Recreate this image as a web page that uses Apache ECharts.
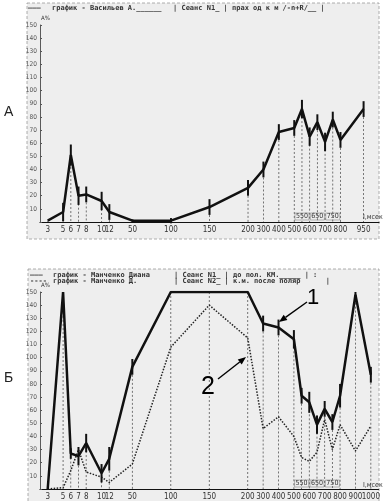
<!DOCTYPE html>
<html><head><meta charset="utf-8">
<script src="https://cdn.jsdelivr.net/npm/echarts@6/dist/echarts.min.js"></script>
<style>html,body{margin:0;padding:0;background:#fff}#c{width:383px;height:501px}</style>
</head><body><div id="c"></div>
<script>
// ---- Data (categories padded with '' spacers to reproduce the uneven time scale) ----
const catsA = ['', '3', '', '5', '6', '7', '8', '', '10', '12',
  '', '', '50', '', '', '', '', '100', '', '', '', '', '150', '', '', '', '', '200',
  '', '300', '', '400', '', '500', '550', '600', '650', '700', '750', '800', '', '', '950', '', ''];
const valsA = [null, 1, null, 7.6, 51, 20, 21, null, 16, 7.6,
  null, null, 1, null, null, null, null, 1, null, null, null, null, 11.4, null, null, null, null, 26,
  null, 40, null, 68.5, null, 71.6, 86, 65, 76, 61, 78, 62.5, null, null, 86, null, null];
const errA = [null, 0, null, 7, 8, 7, 6, null, 7, 6,
  null, null, 1, null, null, null, null, 2, null, null, null, null, 6, null, null, null, null, 6,
  null, 6, null, 6, null, 6, 7, 7, 6, 7, 6, 6, null, null, 6, null, null];

const catsB = ['', '3', '', '5', '6', '7', '8', '', '10', '12',
  '', '', '50', '', '', '', '', '100', '', '', '', '', '150', '', '', '', '', '200',
  '', '300', '', '400', '', '500', '550', '600', '650', '700', '750', '800', '', '900', '', '1000', ''];
const vals1 = [null, 0, null, 150, 27, 25, 35, null, 12, 23,
  null, null, 93, null, null, null, null, 150, null, null, null, null, 150, null, null, null, null, 150,
  null, 126, null, 123, null, 114, 71, 66, 49, 61, 51, 71, null, 148, null, 87, null];
const err1 = [null, 0, null, 0, 4, 7, 7, null, 7, 9,
  null, null, 6, null, null, null, null, 0, null, null, null, null, 0, null, null, null, null, 0,
  null, 6, null, 6, null, 7, 6, 8, 7, 6, 6, 9, null, 2, null, 6, null];
const vals2 = [null, 0, null, 1, 14, 30, 13, null, 9, 5,
  null, null, 19, null, null, null, null, 108, null, null, null, null, 140, null, null, null, null, 115,
  null, 46, null, 55, null, 40, 24, 21, 28, 53, 30, 49, null, 29, null, 48, null];

const yTicks = [0, 150, 10];           // min, max, step of both value axes
const aboveLabels = ['550', '650', '750'];

const headA = ['———', 'график - Васильев А.______', '| Сеанс N1_ | прах од к м /-n+R/__ |'];
const headB1 = ['———', 'график - Манченко Диана', '| Сеанс N1_ | до пол. КМ._____ | :'];
const headB2 = ['----', 'график - Манченко Д.', '| Сеанс N2_ | к.м. после поляр      |'];
const unitName = 'I,мсек';
const yName = 'А%';

// ---- Chart ----
const FONT = "'Liberation Sans Narrow','DejaVu Sans Condensed',Arial,sans-serif";
const MONO = "'DejaVu Sans Mono','Liberation Mono',monospace";
const chart = echarts.init(document.getElementById('c'));

function pts(vals, errs) {
  const out = [];
  vals.forEach((v, i) => { if (v != null) out.push([i, v, errs ? (errs[i] || 0) : 0]); });
  return out;
}
function maxPts(a, b) {
  const out = [];
  a.forEach((v, i) => { if (v != null || b[i] != null) out.push([i, Math.max(v || 0, b[i] || 0), 0]); });
  return out;
}
function errItem(params, api) {
  const x = api.value(0), y = api.value(1), e = api.value(2);
  if (!e) return null;
  const p1 = api.coord([x, y + e]), p2 = api.coord([x, y - e]);
  return { type: 'line', shape: { x1: p1[0], y1: p1[1], x2: p2[0], y2: p2[1] },
    style: { stroke: '#111', lineWidth: 2 } };
}
function dropItem(params, api) {
  const x = api.value(0), y = api.value(1);
  const p1 = api.coord([x, y]), p2 = api.coord([x, 0]);
  return { type: 'line', shape: { x1: p1[0], y1: p1[1], x2: p2[0], y2: p2[1] },
    style: { stroke: '#555', lineWidth: 0.8, lineDash: [2, 2] } };
}
function xAxes(grid, cats) {
  return [{
    type: 'category', gridIndex: grid, data: cats, boundaryGap: false, position: 'bottom',
    axisLine: { onZero: false, lineStyle: { color: '#111', width: 1.2 } }, axisTick: { show: false },
    splitLine: { show: false },
    axisLabel: { interval: 0, fontSize: 8, color: '#333', fontFamily: FONT, margin: 4,
      formatter: v => aboveLabels.includes(v) ? '' : v }
  }, {
    type: 'category', gridIndex: grid, data: cats, boundaryGap: false, position: 'bottom',
    axisLine: { show: false }, axisTick: { show: false }, splitLine: { show: false },
    axisLabel: { interval: 0, inside: true, margin: 2,
      formatter: v => aboveLabels.includes(v) ? '{b|' + v + '}' : '',
      rich: { b: { fontSize: 7, color: '#333', fontFamily: FONT, borderColor: '#888', borderWidth: 0.6, padding: [0, 1, 0, 1] } } }
  }];
}
function yAxis(grid) {
  return {
    type: 'value', gridIndex: grid, min: yTicks[0], max: yTicks[1], interval: yTicks[2],
    axisLine: { show: true, lineStyle: { color: '#333', width: 0.8 } },
    axisTick: { show: true, inside: true, length: 2, lineStyle: { color: '#555' } },
    splitLine: { show: false },
    axisLabel: { fontSize: 6.5, color: '#555', fontFamily: FONT, margin: 3, formatter: v => v === 0 ? '' : v }
  };
}
function arrow(x1, y1, x2, y2) {
  const a = Math.atan2(y2 - y1, x2 - x1), L = 8, W = 3.2;
  const bx = x2 - L * Math.cos(a), by = y2 - L * Math.sin(a);
  return [
    { type: 'line', z: 20, shape: { x1, y1, x2: bx, y2: by }, style: { stroke: '#000', lineWidth: 1.4 } },
    { type: 'polygon', z: 20, shape: { points: [[x2, y2], [bx + W * Math.sin(a), by - W * Math.cos(a)], [bx - W * Math.sin(a), by + W * Math.cos(a)]] }, style: { fill: '#000' } }
  ];
}
function txt(x, y, text, font, extra) {
  return Object.assign({ type: 'text', x, y, z: 5,
    style: { text, font, fill: '#333', textVerticalAlign: 'middle' } }, extra || {});
}

const hf = 'bold 7px ' + MONO;
const graphic = [
  { type: 'rect', z: -1, shape: { x: 27, y: 3, width: 352, height: 236 },
    style: { fill: '#eeeeee', stroke: '#999', lineWidth: 0.8, lineDash: [3, 2] } },
  { type: 'rect', z: -1, shape: { x: 28, y: 269, width: 351, height: 240 },
    style: { fill: '#eeeeee', stroke: '#999', lineWidth: 0.8, lineDash: [3, 2] } },
  txt(28, 8, headA[0], hf), txt(52, 8, headA[1], hf), txt(173, 8, headA[2], hf),
  txt(30, 275, headB1[0], hf), txt(53, 275, headB1[1], hf), txt(174, 275, headB1[2], hf),
  txt(30, 281, headB2[0], hf), txt(53, 281, headB2[1], hf), txt(174, 281, headB2[2], hf),
  txt(41, 18, yName, '6px ' + FONT), txt(41, 285, yName, '6px ' + FONT),
  txt(363, 217, unitName, '7px ' + FONT), txt(363, 485, unitName, '7px ' + FONT),
  txt(4, 112, 'А', '14px ' + "'Liberation Sans',Arial,sans-serif", { style: { text: 'А', font: "14px 'Liberation Sans',Arial,sans-serif", fill: '#222', textVerticalAlign: 'middle' } }),
  txt(4, 378, 'Б', '', { style: { text: 'Б', font: "14px 'Liberation Sans',Arial,sans-serif", fill: '#222', textVerticalAlign: 'middle' } }),
  { type: 'text', x: 313, y: 298, z: 20, style: { text: '1', font: "22px 'Liberation Sans',Arial,sans-serif", fill: '#000', textAlign: 'center', textVerticalAlign: 'middle' } },
  { type: 'text', x: 208, y: 387, z: 20, style: { text: '2', font: "25px 'Liberation Sans',Arial,sans-serif", fill: '#000', textAlign: 'center', textVerticalAlign: 'middle' } },
  ...arrow(307, 302, 279, 322),
  ...arrow(218, 379, 246, 357)
];

chart.setOption({
  animation: false,
  backgroundColor: '#ffffff',
  grid: [
    { left: 40, top: 25, width: 339, height: 197 },
    { left: 40, top: 292, width: 339, height: 198 }
  ],
  xAxis: [...xAxes(0, catsA), ...xAxes(1, catsB)],
  yAxis: [yAxis(0), yAxis(1)],
  graphic,
  series: [
    { type: 'custom', xAxisIndex: 0, yAxisIndex: 0, renderItem: dropItem, data: pts(valsA), z: 1, clip: false },
    { type: 'line', xAxisIndex: 0, yAxisIndex: 0, data: valsA, connectNulls: true, symbol: 'none',
      lineStyle: { color: '#111', width: 2.5 }, z: 3 },
    { type: 'custom', xAxisIndex: 0, yAxisIndex: 0, renderItem: errItem, data: pts(valsA, errA), z: 4, clip: false },

    { type: 'custom', xAxisIndex: 2, yAxisIndex: 1, renderItem: dropItem, data: maxPts(vals1, vals2), z: 1, clip: false },
    { type: 'line', xAxisIndex: 2, yAxisIndex: 1, data: vals2, connectNulls: true, symbol: 'none',
      lineStyle: { color: '#222', width: 1.5, type: [1.5, 1.5] }, z: 2 },
    { type: 'line', xAxisIndex: 2, yAxisIndex: 1, data: vals1, connectNulls: true, symbol: 'none',
      lineStyle: { color: '#111', width: 2.5 }, z: 3 },
    { type: 'custom', xAxisIndex: 2, yAxisIndex: 1, renderItem: errItem, data: pts(vals1, err1), z: 4, clip: false }
  ]
});
</script>
</body></html>
